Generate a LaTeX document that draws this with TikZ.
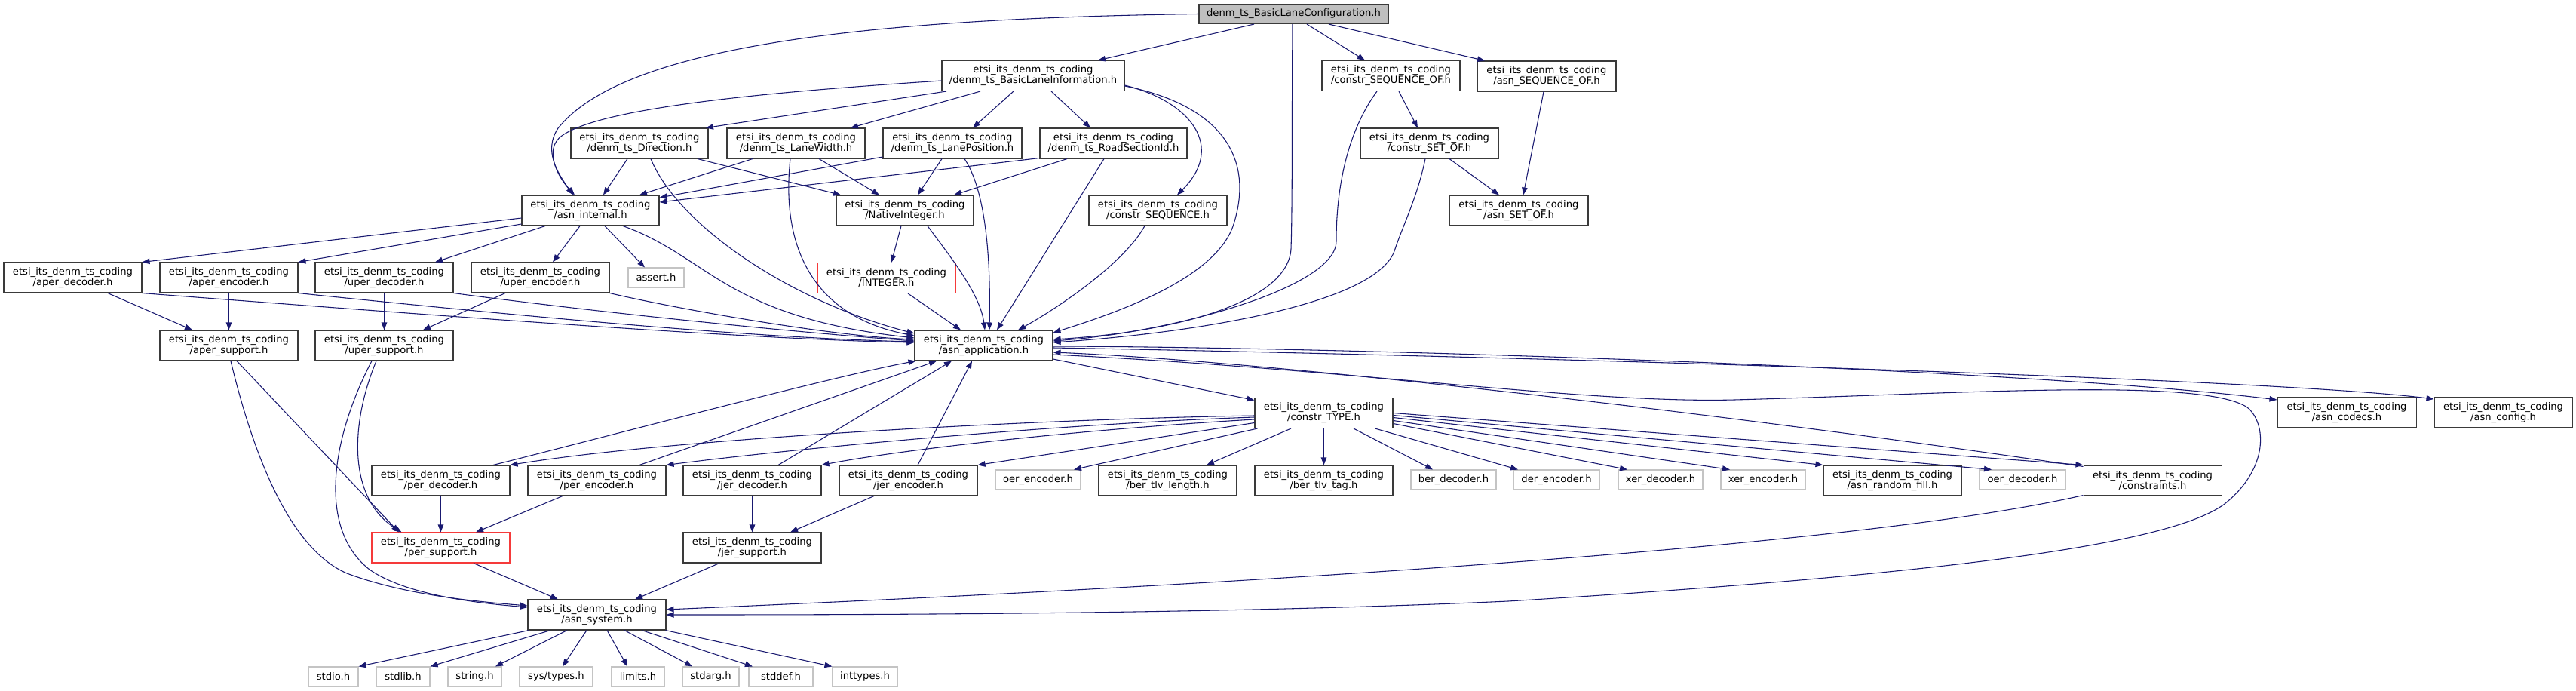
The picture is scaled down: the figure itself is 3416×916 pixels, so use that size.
\documentclass[tikz,border=0pt]{standalone}
\usepackage{fontspec}
\setmainfont{DejaVu Sans}
\usetikzlibrary{arrows.meta,calc}
\definecolor{edgeblue}{HTML}{191970}
\definecolor{bd}{HTML}{3A3A3A}
\definecolor{sysgray}{HTML}{C4C4C4}
\definecolor{truncred}{HTML}{F53A3A}
\definecolor{rootgray}{HTML}{BFBFBF}
\newcommand\nf{\fontsize{9.85pt}{10.5pt}\selectfont}
\newcommand\pfx{etsi\_its\_denm\_ts\_coding\\}
\tikzset{
  nd/.style={draw=bd, fill=white, line width=0.8pt, inner sep=0pt, align=center,
    minimum width=137.25pt, minimum height=30pt, font=\nf},
  sys/.style={nd, draw=sysgray, minimum height=19.5pt},
  trunc/.style={nd, draw=truncred},
  root/.style={nd, fill=rootgray, minimum height=19.5pt},
  dep/.style={draw=edgeblue, line width=0.8pt, -{Triangle[length=7.5pt,width=5.6pt]}},
}
\begin{document}
\begin{tikzpicture}[x=0.75pt,y=-0.75pt]
\fill[white] (0,0) rectangle (3416,916);
\useasboundingbox (0,0) rectangle (3416,916);
% nodes
\node[root, minimum width=188.25pt] (tp) at (1715.5,18.5) {denm\_ts\_BasicLaneConfiguration.h};
\node[nd, minimum width=181.5pt] (bli) at (1370,100.5) {\pfx/denm\_ts\_BasicLaneInformation.h};
\node[nd, minimum width=136.5pt] (dir) at (848,190) {\pfx/denm\_ts\_Direction.h};
\node[nd] (lw) at (1055.5,190) {\pfx/denm\_ts\_LaneWidth.h};
\node[nd, minimum width=138pt] (lp) at (1263,190) {\pfx/denm\_ts\_LanePosition.h};
\node[nd, minimum width=146.25pt] (rsi) at (1476.5,190) {\pfx/denm\_ts\_RoadSectionId.h};
\node[nd] (csof) at (1844.5,100.5) {\pfx/constr\_SEQUENCE\_OF.h};
\node[nd, minimum width=138pt] (asof) at (2051,101) {\pfx/asn\_SEQUENCE\_OF.h};
\node[nd, minimum width=136.5pt] (ai) at (783,279) {\pfx/asn\_internal.h};
\node[nd, minimum width=136.5pt] (ni) at (1200,279) {\pfx/NativeInteger.h};
\node[nd] (cseq) at (1535.5,279) {\pfx/constr\_SEQUENCE.h};
\node[nd] (cset) at (1895.5,190) {\pfx/constr\_SET\_OF.h};
\node[nd, minimum width=138pt] (aset) at (2014,279) {\pfx/asn\_SET\_OF.h};
\node[nd] (apd) at (96.5,368) {\pfx/aper\_decoder.h};
\node[nd] (ape) at (303.5,368) {\pfx/aper\_encoder.h};
\node[nd] (upd) at (509.5,368) {\pfx/uper\_decoder.h};
\node[nd] (upe) at (716.5,368) {\pfx/uper\_encoder.h};
\node[sys, minimum width=55.5pt] (asrt) at (870,368) {assert.h};
\node[trunc] (integ) at (1175.5,368.5) {\pfx/INTEGER.h};
\node[nd] (aps) at (303.5,458) {\pfx/aper\_support.h};
\node[nd] (ups) at (509.5,458) {\pfx/uper\_support.h};
\node[nd, minimum width=137.25pt] (app) at (1304.5,458) {\pfx/asn\_application.h};
\node[nd] (ctype) at (1755.5,547.5) {\pfx/constr\_TYPE.h};
\node[nd, minimum width=138pt] (codecs) at (3112,547) {\pfx/asn\_codecs.h};
\node[nd] (config) at (3319.5,547) {\pfx/asn\_config.h};
\node[nd] (pd) at (584.5,637) {\pfx/per\_decoder.h};
\node[nd] (pe) at (791.5,637) {\pfx/per\_encoder.h};
\node[nd] (jd) at (997.5,637) {\pfx/jer\_decoder.h};
\node[nd] (je) at (1204.5,637) {\pfx/jer\_encoder.h};
\node[sys, minimum width=84.75pt] (oere) at (1376.5,636) {oer\_encoder.h};
\node[nd] (btl) at (1548.5,637) {\pfx/ber\_tlv\_length.h};
\node[nd] (btt) at (1755.5,637) {\pfx/ber\_tlv\_tag.h};
\node[sys, minimum width=84.75pt] (berd) at (1927.5,636) {ber\_decoder.h};
\node[sys, minimum width=85.5pt] (dere) at (2064,636) {der\_encoder.h};
\node[sys, minimum width=84pt] (xerd) at (2202,636) {xer\_decoder.h};
\node[sys, minimum width=84pt] (xere) at (2338,636) {xer\_encoder.h};
\node[nd] (rfill) at (2509.5,637) {\pfx/asn\_random\_fill.h};
\node[sys, minimum width=85.5pt] (oerd) at (2682,636) {oer\_decoder.h};
\node[nd] (cons) at (2854.5,637) {\pfx/constraints.h};
\node[trunc] (ps) at (584.5,726) {\pfx/per\_support.h};
\node[nd] (js) at (997.5,726) {\pfx/jer\_support.h};
\node[nd] (sys) at (791.5,815) {\pfx/asn\_system.h};
\node[sys, minimum width=49.5pt] (stdio) at (442,897) {stdio.h};
\node[sys, minimum width=53.25pt] (stdlib) at (534.5,897) {stdlib.h};
\node[sys, minimum width=53.25pt] (string) at (629.5,897) {string.h};
\node[sys, minimum width=72.75pt] (systypes) at (737.5,897) {sys/types.h};
\node[sys, minimum width=52.5pt] (limits) at (846,897) {limits.h};
\node[sys, minimum width=56.25pt] (stdarg) at (942.5,897) {stdarg.h};
\node[sys, minimum width=63.75pt] (stddef) at (1035.5,897) {stddef.h};
\node[sys, minimum width=64.5pt] (inttypes) at (1147,897) {inttypes.h};
% edges from root
\draw[dep] ($(tp.south)+(-52.5,0)$) -- ($(bli.north)+(86,0)$);
\draw[dep] ($(tp.south)+(17.5,0)$) -- ($(csof.north)+(-34.5,0)$);
\draw[dep] ($(tp.south)+(46.5,0)$) -- ($(asof.north)+(-82,0)$);
\draw[dep] (tp.west) .. controls (1100,25) and (820,70) .. (740,170) .. controls (720,200) and (740,230) .. ($(ai.north)+(-23,0)$);
\draw[dep] ($(tp.south)+(-1.5,0)$) .. controls (1713,150) and (1714,270) .. (1712,330) .. controls (1708,400) and (1560,440) .. ($(app.east)+(0,-8)$);
% BasicLaneInformation
\draw[dep] ($(bli.west)+(0,6.5)$) .. controls (1050,120) and (800,140) .. (745,180) .. controls (720,198) and (740,235) .. ($(ai.north)+(-21,0)$);
\draw[dep] ($(bli.south)+(-115,0)$) -- ($(dir.north)+(88,0)$);
\draw[dep] ($(bli.south)+(-70,0)$) -- ($(lw.north)+(72.5,0)$);
\draw[dep] ($(bli.south)+(-26,0)$) -- ($(lp.north)+(27,0)$);
\draw[dep] ($(bli.south)+(24,0)$) -- ($(rsi.north)+(-30.5,0)$);
\draw[dep] ($(bli.east)+(0,12.5)$) .. controls (1580,135) and (1625,195) .. ($(cseq.north)+(25.5,0)$);
\draw[dep] ($(bli.east)+(0,13.5)$) .. controls (1620,140) and (1665,210) .. (1635,300) .. controls (1610,370) and (1480,415) .. ($(app.east)+(0,-17)$);
% SEQUENCE_OF / SET_OF
\draw[dep] ($(csof.south)+(10.5,0)$) -- ($(cset.north)+(-15.5,0)$);
\draw[dep] ($(csof.south)+(-18.5,0)$) .. controls (1790,170) and (1772,240) .. (1772,320) .. controls (1772,380) and (1560,440) .. ($(app.east)+(0,-6)$);
\draw[dep] ($(cset.south)+(26.5,0)$) -- ($(aset.north)+(-26,0)$);
\draw[dep] ($(cset.south)+(-5.5,0)$) .. controls (1880,260) and (1860,300) .. (1850,330) .. controls (1830,400) and (1600,440) .. ($(app.east)+(0,-4)$);
\draw[dep] ($(asof.south)+(-4,0)$) -- ($(aset.north)+(6,0)$);
% Direction
\draw[dep] ($(dir.south)+(-16,0)$) -- ($(ai.north)+(17,0)$);
\draw[dep] ($(dir.south)+(77,0)$) -- ($(ni.north)+(-85,0)$);
\draw[dep] ($(dir.south)+(15,0)$) .. controls (900,300) and (1050,400) .. ($(app.west)+(0,-16)$);
% LaneWidth
\draw[dep] ($(lw.south)+(-57.5,0)$) -- ($(ai.north)+(65,0)$);
\draw[dep] ($(lw.south)+(30.5,0)$) -- ($(ni.north)+(-34,0)$);
\draw[dep] ($(lw.south)+(-7.5,0)$) .. controls (1035,330) and (1080,420) .. ($(app.west)+(0,-13)$);
% LanePosition
\draw[dep] ($(lp.west)+(0,18)$) -- ($(ai.east)+(0,-17)$);
\draw[dep] ($(lp.south)+(-14,0)$) -- ($(ni.north)+(17,0)$);
\draw[dep] ($(lp.south)+(16,0)$) .. controls (1305,250) and (1314,330) .. ($(app.north)+(7.5,0)$);
% RoadSectionId
\draw[dep] ($(rsi.south west)+(0,-1)$) -- ($(ai.east)+(0,-11)$);
\draw[dep] ($(rsi.south)+(-61.5,0)$) -- ($(ni.north)+(65,0)$);
\draw[dep] ($(rsi.south)+(-12.5,0)$) -- ($(app.north)+(17.5,0)$);
% constr_SEQUENCE, NativeInteger, INTEGER
\draw[dep] ($(cseq.south)+(-17.5,0)$) .. controls (1490,350) and (1400,410) .. ($(app.north)+(45.5,0)$);
\draw[dep] ($(ni.south)+(-5,0)$) -- ($(integ.north)+(6.5,0)$);
\draw[dep] ($(ni.south)+(30,0)$) .. controls (1260,340) and (1300,390) .. ($(app.north)+(1.5,0)$);
\draw[dep] ($(integ.south)+(28.5,0)$) -- ($(app.north)+(-30.5,0)$);
% asn_internal
\draw[dep] ($(ai.west)+(0,10)$) -- (apd.north east);
\draw[dep] ($(ai.west)+(0,18)$) -- (ape.north east);
\draw[dep] ($(ai.south)+(-60,0)$) -- ($(upd.north)+(67.5,0)$);
\draw[dep] ($(ai.south)+(-14,0)$) -- ($(upe.north)+(16.5,0)$);
\draw[dep] ($(ai.south)+(19,0)$) -- ($(asrt.north)+(-15,0)$);
\draw[dep] ($(ai.south)+(43,0)$) .. controls (940,340) and (960,420) .. ($(app.west)+(0,-10)$);
% aper / uper
\draw[dep] ($(apd.south)+(46.5,0)$) -- ($(aps.north)+(-48.5,0)$);
\draw[dep] (apd.south east) .. controls (600,420) and (1000,450) .. ($(app.west)+(0,-4)$);
\draw[dep] (ape.south) -- (aps.north);
\draw[dep] (ape.south east) .. controls (700,420) and (1000,448) .. ($(app.west)+(0,-5)$);
\draw[dep] (upd.south) -- (ups.north);
\draw[dep] (upd.south east) .. controls (800,415) and (1050,440) .. ($(app.west)+(0,-6)$);
\draw[dep] ($(upe.south)+(-46.5,0)$) -- ($(ups.north)+(51.5,0)$);
\draw[dep] (upe.south east) .. controls (900,410) and (1100,445) .. ($(app.west)+(0,-8)$);
\draw[dep] ($(aps.south)+(10.5,0)$) -- ($(ps.north)+(-55.5,0)$);
\draw[dep] ($(aps.south)+(2.5,0)$) .. controls (340,620) and (390,730) .. (460,760) .. controls (540,790) and (640,798) .. ($(sys.west)+(0,-12)$);
\draw[dep] ($(ups.south)+(-10.5,0)$) .. controls (465,560) and (460,660) .. ($(ps.north)+(-52,0)$);
\draw[dep] ($(ups.south)+(-16.5,0)$) .. controls (440,580) and (420,700) .. (490,755) .. controls (540,790) and (640,800) .. ($(sys.west)+(0,-10)$);
% per / jer
\draw[dep] (pd.south) -- (ps.north);
\draw[dep] ($(pd.north)+(69.5,0)$) .. controls (800,580) and (1100,500) .. ($(app.south west)+(2,0)$);
\draw[dep] ($(pe.south)+(-45.5,0)$) -- ($(ps.north)+(46.5,0)$);
\draw[dep] ($(pe.north)+(56.5,0)$) -- ($(app.south)+(-62.5,0)$);
\draw[dep] (jd.south) -- (js.north);
\draw[dep] ($(jd.north)+(34.5,0)$) -- ($(app.south)+(-42.5,0)$);
\draw[dep] ($(je.south)+(-45.5,0)$) -- ($(js.north)+(50.5,0)$);
\draw[dep] ($(je.north)+(12.5,0)$) -- ($(app.south)+(-15.5,0)$);
\draw[dep] ($(ps.south)+(43.5,0)$) -- ($(sys.north)+(-51.5,0)$);
\draw[dep] ($(js.south)+(-43.5,0)$) -- ($(sys.north)+(50.5,0)$);
% asn_system
\draw[dep] ($(sys.south west)+(2,0)$) -- (stdio.north east);
\draw[dep] ($(sys.south)+(-61.5,0)$) -- (stdlib.north east);
\draw[dep] ($(sys.south)+(-39.5,0)$) -- ($(string.north)+(27.5,0)$);
\draw[dep] ($(sys.south)+(-13.5,0)$) -- ($(systypes.north)+(8.5,0)$);
\draw[dep] ($(sys.south)+(13.5,0)$) -- ($(limits.north)+(-14,0)$);
\draw[dep] ($(sys.south)+(36.5,0)$) -- ($(stdarg.north)+(-24.5,0)$);
\draw[dep] ($(sys.south)+(59.5,0)$) -- ($(stddef.north)+(-37.5,0)$);
\draw[dep] ($(sys.south east)+(-1,0)$) -- (inttypes.north west);
% asn_application
\draw[dep] ($(app.east)+(0,18)$) -- ($(ctype.west)+(0,-17)$);
\draw[dep] ($(app.east)+(0,1)$) .. controls (1800,460) and (2700,490) .. ($(codecs.west)+(0,-17)$);
\draw[dep] ($(app.east)+(0,3)$) .. controls (1900,470) and (3000,500) .. ($(config.west)+(0,-18)$);
\draw[dep] ($(app.east)+(0,12)$) .. controls (1800,490) and (2100,535) .. (2300,530) .. controls (2600,522) and (2920,500) .. (2980,540) .. controls (3005,560) and (3010,620) .. (2950,668) .. controls (2880,720) and (2600,760) .. (2000,797) .. controls (1600,815) and (1100,815) .. (sys.east);
% constr_TYPE
\draw[dep] ($(ctype.west)+(0,3.5)$) .. controls (1400,555) and (900,580) .. (pd.north east);
\draw[dep] ($(ctype.west)+(0,5.5)$) .. controls (1400,562) and (1050,595) .. (pe.north east);
\draw[dep] ($(ctype.west)+(0,8.5)$) .. controls (1450,568) and (1200,595) .. (jd.north east);
\draw[dep] ($(ctype.west)+(0,13)$) -- (je.north east);
\draw[dep] ($(ctype.south west)+(4,0)$) -- ($(oere.north)+(47.5,0)$);
\draw[dep] ($(ctype.south)+(-43.5,0)$) -- ($(btl.north)+(51.5,0)$);
\draw[dep] (ctype.south) -- (btt.north);
\draw[dep] ($(ctype.south)+(39.5,0)$) -- ($(berd.north)+(-27.5,0)$);
\draw[dep] ($(ctype.south)+(68,0)$) -- ($(dere.north)+(-51,0)$);
\draw[dep] ($(ctype.east)+(0,14)$) -- ($(xerd.north)+(-44,0)$);
\draw[dep] ($(ctype.east)+(0,10)$) -- ($(xere.north)+(-44,0)$);
\draw[dep] ($(ctype.east)+(0,6)$) -- (rfill.north west);
\draw[dep] ($(ctype.east)+(0,3)$) -- ($(oerd.north)+(-41,0)$);
\draw[dep] ($(ctype.east)+(0,0)$) -- (cons.north west);
% constraints
\draw[dep] ($(cons.north west)+(0,2)$) .. controls (2300,550) and (1700,480) .. ($(app.east)+(0,9)$);
\draw[dep] ($(cons.south west)+(0,-1)$) .. controls (2400,740) and (1300,790) .. ($(sys.east)+(0,-7)$);
\end{tikzpicture}
\end{document}
